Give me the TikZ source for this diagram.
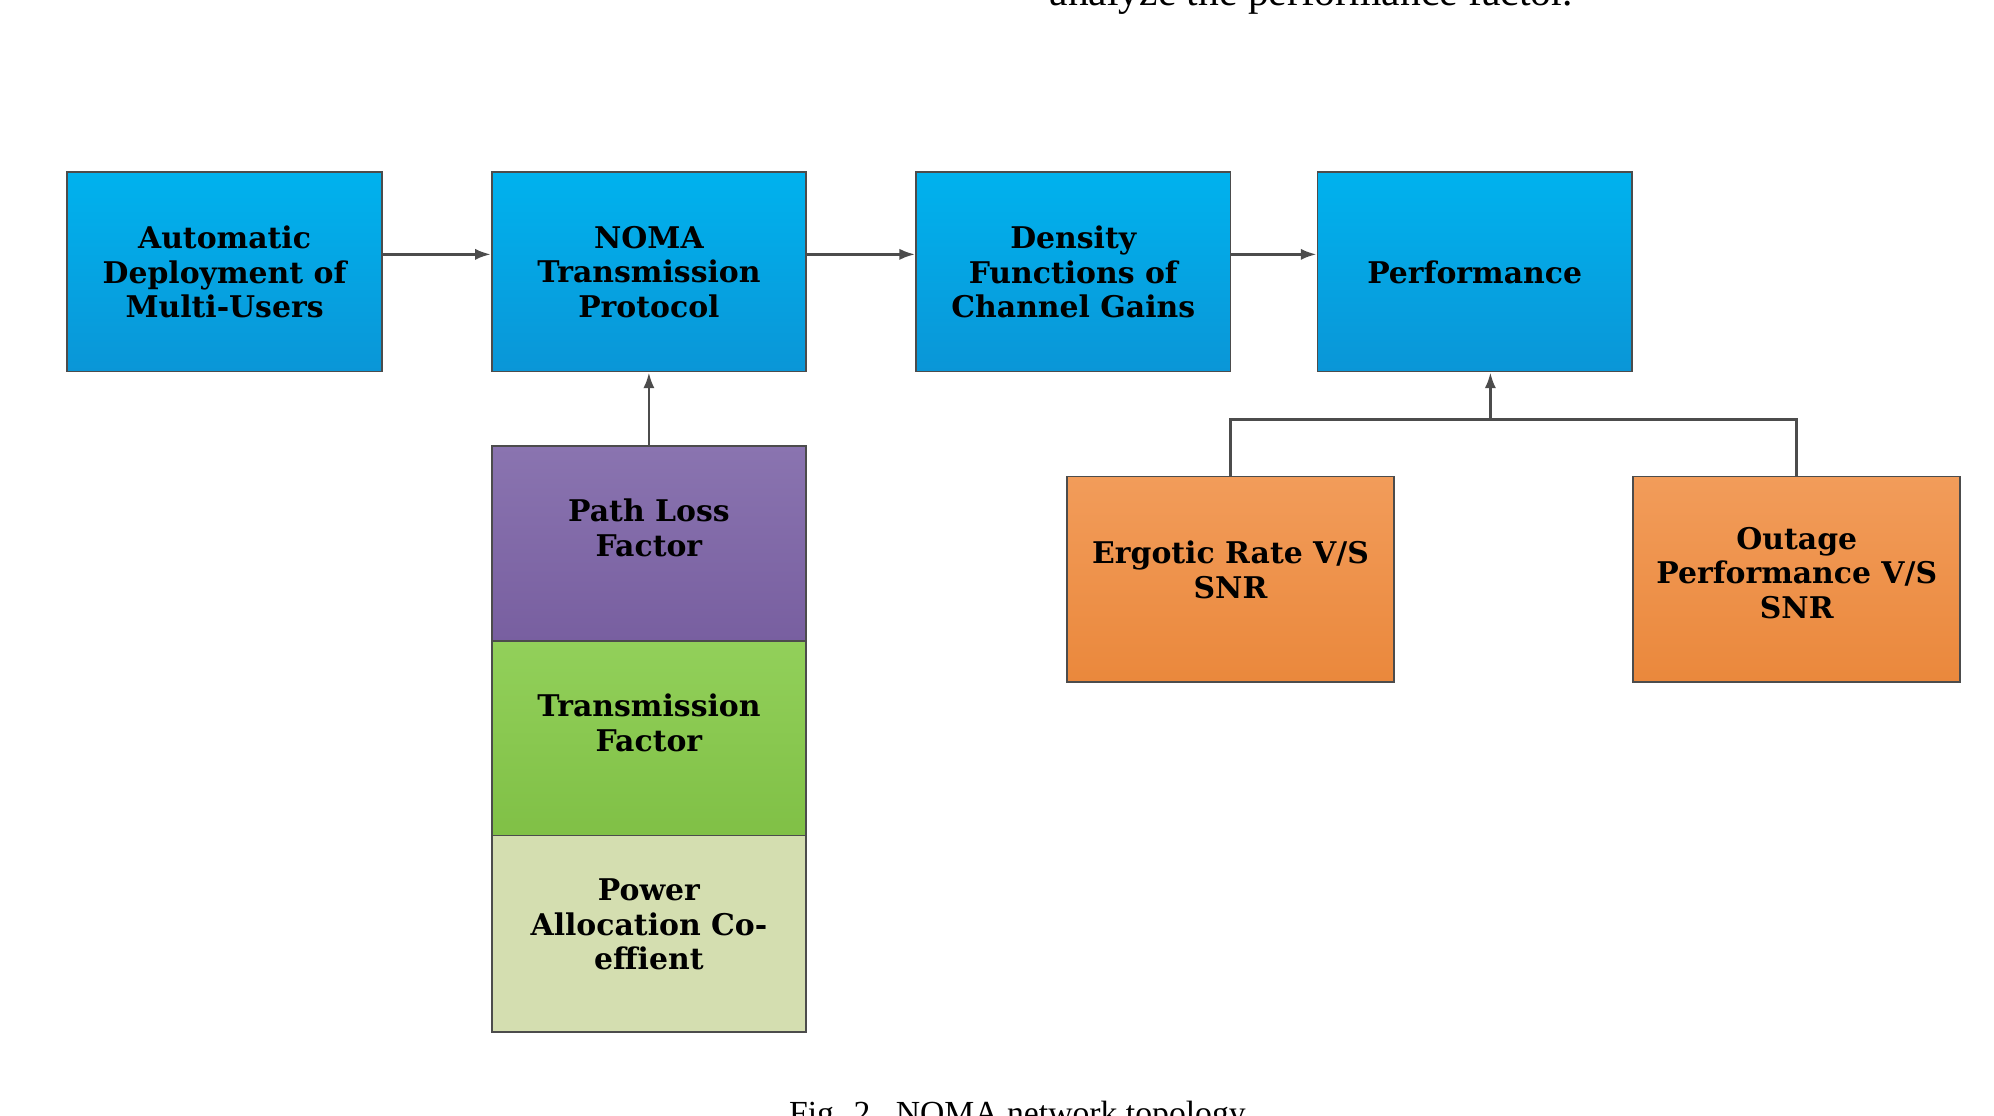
\documentclass[tikz,border=0pt]{standalone}
\usepackage{fontspec}
\setmainfont{Liberation Serif}
\newfontfamily\boxfont{DejaVu Serif}
\usetikzlibrary{arrows.meta}
\definecolor{bT}{RGB}{0,178,238}
\definecolor{bB}{RGB}{10,150,215}
\definecolor{pT}{RGB}{138,116,176}
\definecolor{pB}{RGB}{120,95,160}
\definecolor{gT}{RGB}{146,208,90}
\definecolor{gB}{RGB}{128,192,70}
\definecolor{lg}{RGB}{212,222,176}
\definecolor{oT}{RGB}{242,156,90}
\definecolor{oB}{RGB}{234,136,60}
\begin{document}
\begin{tikzpicture}[x=0.02cm,y=-0.02cm,
  box/.style={draw=black!70,line width=0.8pt,inner sep=0pt,align=center,
    font=\boxfont\bfseries\fontsize{13.3}{15.4}\selectfont},
  blue/.style={box,top color=bT,bottom color=bB},
  orange/.style={box,top color=oT,bottom color=oB},
  conn/.style={draw=black!70,line width=1.2pt},
  arr/.style={conn,-{Latex[length=7pt,width=5pt]}}]
\useasboundingbox (0,0) rectangle (1560,873);
\begin{scope}
\clip (0,0) rectangle (1560,873);
\node[font=\fontsize{18.5}{22}\selectfont,anchor=base] (top) at (1026,4) {analyze the performance factor.};
\node[font=\fontsize{15}{18}\selectfont,anchor=base] (cap) at (796,880) {Fig. 2.\ \ NOMA network topology};
\end{scope}
\node[blue,anchor=north west,minimum width=4.92cm,minimum height=3.12cm] (b1) at (52,134) {Automatic\\Deployment of\\Multi-Users};
\node[blue,anchor=north west,minimum width=4.92cm,minimum height=3.12cm] (b2) at (384,134) {NOMA\\Transmission\\Protocol};
\node[blue,anchor=north west,minimum width=4.92cm,minimum height=3.12cm] (b3) at (716,134) {Density\\Functions of\\Channel Gains};
\node[blue,anchor=north west,minimum width=4.92cm,minimum height=3.12cm] (b4) at (1030,134) {Performance};
\node[box,top color=pT,bottom color=pB,anchor=north west,minimum width=4.92cm,minimum height=3.06cm,text depth=0.5cm] (s1) at (384,348) {Path Loss\\Factor};
\node[box,top color=gT,bottom color=gB,anchor=north west,minimum width=4.92cm,minimum height=3.04cm,text depth=0.5cm] (s2) at (384,501) {Transmission\\Factor};
\node[box,fill=lg,anchor=north west,minimum width=4.92cm,minimum height=3.08cm,text depth=0.3cm] (s3) at (384,653) {Power\\Allocation Co-\\effient};
\node[orange,anchor=north west,minimum width=5.12cm,minimum height=3.22cm,text depth=0.3cm] (o1) at (834,372) {Ergotic Rate V/S\\SNR};
\node[orange,anchor=north west,minimum width=5.12cm,minimum height=3.22cm,text depth=0.2cm] (o2) at (1277,372) {Outage\\Performance V/S\\SNR};
\coordinate (j) at (1166,328);
\draw[arr] (b1.east|-0,199) -- (b2.west|-0,199);
\draw[arr] (b2.east|-0,199) -- (b3.west|-0,199);
\draw[arr] (b3.east|-0,199) -- (b4.west|-0,199);
\draw[arr] (s1.north) -- (b2.south);
\draw[conn] (o1.north) |- (j) -| (o2.north);
\draw[arr] (j) -- (j|-b4.south);
\end{tikzpicture}
\end{document}
